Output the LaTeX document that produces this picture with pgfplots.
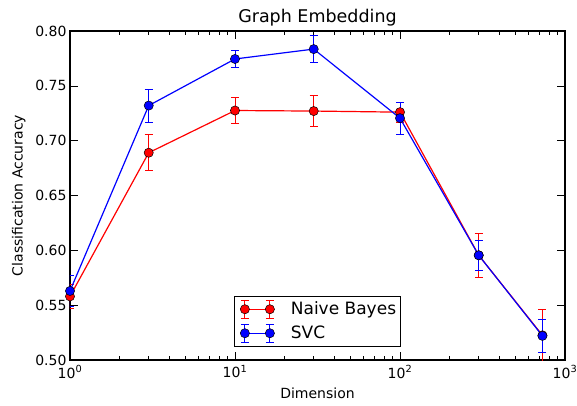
\documentclass[border=0pt]{standalone}
\usepackage{fontspec}
\setmainfont{DejaVu Sans}
\usepackage{pgfplots}
\pgfplotsset{compat=1.18}
\newcommand{\legerr}[2]{%
  \path[draw=none, fill=none] (-8bp,-12bp) rectangle (40bp,12bp);
  \draw[#1, line width=1.2bp] (0bp,0bp) -- (25bp,0bp);
  \draw[#1, line width=1bp] (0bp,-#2) -- (0bp,#2);
  \draw[#1, line width=1bp] (-4bp,-#2) -- (4bp,-#2);
  \draw[#1, line width=1bp] (-4bp,#2) -- (4bp,#2);
  \draw[#1, line width=1bp] (25bp,-#2) -- (25bp,#2);
  \draw[#1, line width=1bp] (21bp,-#2) -- (29bp,-#2);
  \draw[#1, line width=1bp] (21bp,#2) -- (29bp,#2);
  \filldraw[fill=#1, draw=black, line width=0.5bp] (0bp,0bp) circle (4.6bp);
  \filldraw[fill=#1, draw=black, line width=0.5bp] (25bp,0bp) circle (4.6bp);
}
\begin{document}
\begin{tikzpicture}
\useasboundingbox (-70bp,-46bp) rectangle (507bp,360bp);
\begin{axis}[
  scale only axis,
  width=495bp, height=329bp,
  xmode=log,
  xmin=1, xmax=1000,
  ymin=0.5, ymax=0.8,
  xtick={1,10,100,1000},
  xticklabels={10\textsuperscript{0},10\textsuperscript{1},10\textsuperscript{2},10\textsuperscript{3}},
  ytick={0.5,0.55,0.6,0.65,0.7,0.75,0.8},
  yticklabel style={/pgf/number format/fixed,/pgf/number format/fixed zerofill,/pgf/number format/precision=2},
  xticklabel style={yshift=-2bp},
  /pgf/number format/assume math mode=true,
  ticklabel style={font=\fontsize{14bp}{16bp}\selectfont},
  major tick length=8bp,
  minor tick length=4bp,
  tick style={black, line width=0.6bp},
  axis line style={black, line width=1.2bp},
  title={Graph Embedding},
  title style={font=\fontsize{17.5bp}{20bp}\selectfont, yshift=-5bp},
  xlabel={Dimension},
  ylabel={Classification Accuracy},
  label style={font=\fontsize{14bp}{16bp}\selectfont},
  xlabel style={yshift=-3bp},
  ylabel style={yshift=3bp},
  legend style={at={(0.5,0.04)}, anchor=south, draw=black, line width=1.2bp,
    font=\fontsize{17bp}{20bp}\selectfont, row sep=0bp, inner xsep=2bp, inner ysep=1bp,
    /tikz/every odd column/.append style={column sep=4bp}},
  legend cell align=left,
]
\addplot[red, line width=1.2bp, mark=*, mark size=4.6bp,
  mark options={fill=red, draw=black, line width=0.5bp},
  legend image code/.code={\legerr{red}{9bp}},
  error bars/.cd, y dir=both, y explicit,
  error bar style={red, line width=1bp},
  error mark options={rotate=90, red, mark size=4bp, line width=1bp}]
  table[x=x, y=y, y error=e] {
x y e
1 0.558 0.011
3 0.689 0.0165
10 0.7275 0.012
30 0.727 0.014
100 0.726 0.009
300 0.5955 0.020
730 0.5225 0.024
};
\addlegendentry{Naive Bayes}
\addplot[blue, line width=1.2bp, mark=*, mark size=4.6bp,
  mark options={fill=blue, draw=black, line width=0.5bp},
  legend image code/.code={\legerr{blue}{9bp}},
  error bars/.cd, y dir=both, y explicit,
  error bar style={blue, line width=1bp},
  error mark options={rotate=90, blue, mark size=4bp, line width=1bp}]
  table[x=x, y=y, y error=e] {
x y e
1 0.563 0.014
3 0.732 0.015
10 0.7745 0.0075
30 0.7835 0.012
100 0.7205 0.0145
300 0.5955 0.0135
730 0.522 0.015
};
\addlegendentry{SVC}
\end{axis}
\end{tikzpicture}
\end{document}
